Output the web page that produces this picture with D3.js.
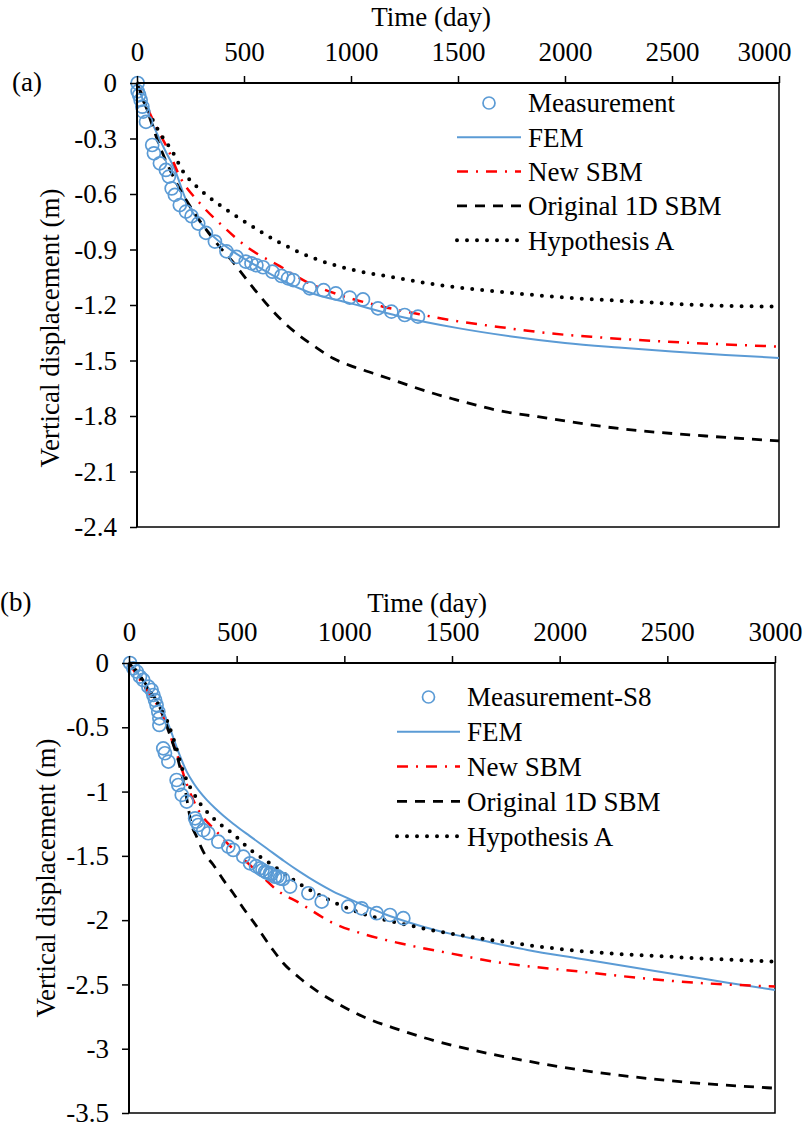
<!DOCTYPE html>
<html>
<head>
<meta charset="utf-8">
<script src="https://cdn.jsdelivr.net/npm/d3@7"></script>
<style>
  body { margin: 0; background: #fff; }
  svg text { font-family: "Liberation Serif", "Times New Roman", serif; fill: #000; }
</style>
</head>
<body>
<div id="chart"></div>
<script>
// ---- data: [time (day), vertical displacement (m)] ----
const xTicks = [0, 500, 1000, 1500, 2000, 2500, 3000];
const aYTicks = [0, -0.3, -0.6, -0.9, -1.2, -1.5, -1.8, -2.1, -2.4];
const bYTicks = [0, -0.5, -1, -1.5, -2, -2.5, -3, -3.5];

const aMeasured = [[3,0],[3,-0.045],[10,-0.065],[17,-0.092],[25,-0.128],[29,-0.155],[42,-0.21],
  [71,-0.335],[79,-0.38],[107,-0.434],[135,-0.47],[149,-0.506],[162,-0.57],[177,-0.605],[200,-0.66],
  [229,-0.695],[255,-0.72],[286,-0.76],[322,-0.81],[364,-0.857],[418,-0.91],[465,-0.94],[508,-0.965],
  [535,-0.975],[558,-0.985],[589,-0.996],[633,-1.02],[675,-1.043],[706,-1.056],[730,-1.065],
  [807,-1.11],[872,-1.12],[929,-1.137],[994,-1.16],[1056,-1.17],[1126,-1.218],[1189,-1.236],
  [1251,-1.254],[1313,-1.263]];
const aFem = [[0,0],[30,-0.1],[92,-0.27],[138,-0.38],[170,-0.45],[232,-0.64],[340,-0.81],[448,-0.91],
  [560,-0.99],[683,-1.07],[800,-1.13],[994,-1.19],[1228,-1.262],[1500,-1.325],[1750,-1.37],
  [2000,-1.405],[2250,-1.43],[2500,-1.452],[2750,-1.47],[3000,-1.486]];
const aNewSbm = [[0,0],[53,-0.146],[100,-0.26],[146,-0.362],[200,-0.506],[294,-0.65],[403,-0.776],
  [512,-0.885],[667,-0.99],[792,-1.075],[947,-1.146],[1149,-1.209],[1320,-1.25],[1461,-1.281],
  [1700,-1.32],[1927,-1.353],[2160,-1.375],[2472,-1.398],[2750,-1.413],[3000,-1.425]];
const aOrigSbm = [[0,0],[30,-0.09],[107,-0.344],[185,-0.542],[279,-0.72],[372,-0.866],[450,-0.97],
  [551,-1.119],[675,-1.281],[745,-1.353],[831,-1.425],[916,-1.488],[1009,-1.533],[1103,-1.569],
  [1196,-1.605],[1289,-1.642],[1383,-1.677],[1484,-1.71],[1585,-1.741],[1678,-1.768],[1873,-1.804],
  [2269,-1.87],[2658,-1.908],[3000,-1.935]];
const aHypA = [[0,0],[30,-0.09],[99,-0.254],[170,-0.38],[216,-0.48],[279,-0.56],[387,-0.66],[504,-0.75],
  [667,-0.863],[839,-0.953],[1009,-1.01],[1196,-1.05],[1400,-1.09],[1694,-1.128],[2000,-1.16],
  [2300,-1.18],[2627,-1.2],[3000,-1.209]];

const bMeasured = [[5,0],[20,-0.041],[36,-0.067],[51,-0.106],[66,-0.132],[90,-0.184],[105,-0.21],
  [113,-0.249],[121,-0.288],[128,-0.327],[136,-0.379],[141,-0.43],[141,-0.482],[159,-0.664],
  [167,-0.702],[183,-0.767],[221,-0.91],[229,-0.949],[245,-1.026],[268,-1.078],[307,-1.208],
  [314,-1.234],[322,-1.26],[345,-1.3],[368,-1.324],[415,-1.39],[461,-1.428],[484,-1.454],
  [531,-1.506],[562,-1.558],[590,-1.58],[608,-1.597],[620,-1.61],[632,-1.623],[640,-1.63],
  [655,-1.635],[660,-1.645],[678,-1.662],[690,-1.66],[701,-1.675],[715,-1.68],[748,-1.739],
  [833,-1.791],[895,-1.856],[1018,-1.895],[1080,-1.908],[1150,-1.946],[1212,-1.96],[1274,-1.985]];
const bFem = [[0,0],[50,-0.1],[100,-0.22],[144,-0.33],[190,-0.508],[229,-0.69],[268,-0.845],
  [300,-0.935],[330,-1.005],[361,-1.065],[400,-1.13],[440,-1.19],[484,-1.25],[560,-1.345],
  [639,-1.441],[720,-1.54],[794,-1.625],[870,-1.705],[949,-1.778],[1030,-1.84],[1104,-1.895],
  [1180,-1.948],[1258,-1.995],[1370,-2.053],[1491,-2.105],[1630,-2.155],[1850,-2.232],[2094,-2.3],
  [2330,-2.365],[2559,-2.426],[2780,-2.487],[3000,-2.543]];
const bNewSbm = [[0,0],[66,-0.17],[120,-0.3],[144,-0.36],[170,-0.47],[190,-0.56],[229,-0.741],
  [268,-0.94],[314,-1.12],[407,-1.312],[500,-1.475],[600,-1.63],[686,-1.765],[794,-1.869],
  [949,-2.024],[1104,-2.115],[1258,-2.18],[1491,-2.258],[1692,-2.322],[2094,-2.4],[2559,-2.478],
  [3000,-2.517]];
const bOrigSbm = [[0,0],[50,-0.1],[100,-0.22],[144,-0.35],[190,-0.56],[229,-0.76],[260,-0.98],
  [291,-1.26],[314,-1.351],[345,-1.467],[392,-1.571],[438,-1.687],[484,-1.791],[531,-1.908],
  [577,-2.011],[663,-2.219],[717,-2.335],[794,-2.452],[872,-2.55],[980,-2.659],[1104,-2.763],
  [1258,-2.854],[1413,-2.935],[1568,-3.0],[1723,-3.055],[2094,-3.165],[2559,-3.256],[3000,-3.307]];
const bHypA = [[0,0],[50,-0.1],[98,-0.24],[159,-0.38],[206,-0.586],[252,-0.845],[314,-1.052],
  [392,-1.208],[484,-1.33],[562,-1.45],[639,-1.54],[794,-1.72],[949,-1.86],[1104,-1.96],
  [1258,-2.024],[1413,-2.08],[1630,-2.141],[2094,-2.24],[2559,-2.289],[3000,-2.323]];

const aLegend = ["Measurement", "FEM", "New SBM", "Original 1D SBM", "Hypothesis A"];
const bLegend = ["Measurement-S8", "FEM", "New SBM", "Original 1D SBM", "Hypothesis A"];

const W = 810, H = 1128;
const FONT = 27;
const BLUE = "#5b9bd5";

const svg = d3.select("#chart").append("svg")
  .attr("width", W).attr("height", H);

// line styles, in legend order (after the measurement marker)
const styles = [
  { stroke: BLUE, width: 2, dash: null, cap: "butt" },
  { stroke: "#ff0000", width: 2.5, dash: "11,8,2,8", cap: "butt" },
  { stroke: "#000", width: 2.8, dash: "10,8", cap: "butt" },
  { stroke: "#000", width: 4, dash: "0,10", cap: "round" }
];

function drawPanel(p) {
  const g = svg.append("g");
  const x = d3.scaleLinear().domain([0, 3000]).range([p.left, p.left + p.w]);
  const y = d3.scaleLinear().domain([0, p.yMin]).range([p.top, p.top + p.h]);

  // frame
  g.append("rect")
    .attr("x", p.left).attr("y", p.top)
    .attr("width", p.w).attr("height", p.h)
    .attr("fill", "none").attr("stroke", "#000").attr("stroke-width", 1.5);

  // curves
  const line = d3.line().x(d => x(d[0])).y(d => y(d[1])).curve(d3.curveMonotoneX);
  const clip = "clip-" + p.id;
  g.append("clipPath").attr("id", clip).append("rect")
    .attr("x", p.left).attr("y", p.top - 2).attr("width", p.w + 2).attr("height", p.h + 4);

  p.series.forEach((s, i) => {
    const st = styles[i];
    g.append("path")
      .datum(s)
      .attr("clip-path", `url(#${clip})`)
      .attr("fill", "none")
      .attr("stroke", st.stroke)
      .attr("stroke-width", st.width)
      .attr("stroke-dasharray", st.dash)
      .attr("stroke-linecap", st.cap)
      .attr("d", line);
  });

  // measurement circles
  g.append("g").selectAll("circle")
    .data(p.measured)
    .enter()
    .append("circle")
    .attr("cx", d => x(d[0]))
    .attr("cy", d => y(d[1]))
    .attr("r", 6.5)
    .attr("fill", "none")
    .attr("stroke", BLUE)
    .attr("stroke-width", 1.7);

  // axes
  const xAxis = g.append("g")
    .attr("transform", `translate(0,${p.top})`)
    .call(d3.axisTop(x).tickValues(xTicks).tickSize(7).tickPadding(15).tickFormat(d3.format("d")));
  const yAxis = g.append("g")
    .attr("transform", `translate(${p.left},0)`)
    .call(d3.axisLeft(y).tickValues(p.yTicks).tickSize(7).tickPadding(13).tickFormat(d => d.toString()));
  [xAxis, yAxis].forEach(a => {
    a.select(".domain").attr("stroke-width", 2).attr("d",
      a === xAxis ? `M${p.left},0H${p.left + p.w}` : `M0,${p.top}V${p.top + p.h}`);
    a.selectAll(".tick line").attr("stroke-width", 1.5);
    a.selectAll("text").attr("font-size", FONT).style("font-family", "'Liberation Serif', serif");
  });
  // the last top label is pulled inside the frame in panel (a)
  xAxis.selectAll(".tick text").filter(d => d === 3000).attr("dx", p.lastShift);

  // titles
  g.append("text")
    .attr("x", p.xTitleX).attr("y", p.xTitleY)
    .attr("text-anchor", "middle").attr("font-size", FONT)
    .text("Time (day)");
  g.append("text")
    .attr("transform", `translate(${p.yTitleX},${p.yTitleY}) rotate(-90)`)
    .attr("text-anchor", "middle").attr("dy", "0.35em").attr("font-size", FONT)
    .text("Vertical displacement (m)");
  g.append("text")
    .attr("x", p.tagX).attr("y", p.tagY)
    .attr("font-size", FONT)
    .text(p.tag);

  // legend
  const lg = g.append("g");
  p.legend.forEach((name, i) => {
    const cy = p.legY + i * p.legStep;
    if (i === 0) {
      lg.append("circle")
        .attr("cx", (p.legX0 + p.legX1) / 2).attr("cy", cy).attr("r", 6)
        .attr("fill", "none").attr("stroke", BLUE).attr("stroke-width", 1.7);
    } else {
      const st = styles[i - 1];
      lg.append("line")
        .attr("x1", p.legX0).attr("x2", p.legX1)
        .attr("y1", cy).attr("y2", cy)
        .attr("stroke", st.stroke).attr("stroke-width", st.width)
        .attr("stroke-dasharray", st.dash).attr("stroke-linecap", st.cap);
    }
    lg.append("text")
      .attr("x", p.legText).attr("y", cy).attr("dy", "0.35em")
      .attr("font-size", FONT)
      .text(name);
  });
}

drawPanel({
  id: "a", tag: "(a)", tagX: 12, tagY: 91, lastShift: -15,
  left: 137, top: 83, w: 642, h: 444, yMin: -2.4, yTicks: aYTicks,
  xTitleX: 431, xTitleY: 26, yTitleX: 50, yTitleY: 328,
  measured: aMeasured, series: [aFem, aNewSbm, aOrigSbm, aHypA],
  legend: aLegend, legX0: 457, legX1: 521, legText: 528, legY: 103, legStep: 34.3
});

drawPanel({
  id: "b", tag: "(b)", tagX: 0, tagY: 611, lastShift: 0,
  left: 129, top: 663, w: 646, h: 450, yMin: -3.5, yTicks: bYTicks,
  xTitleX: 427, xTitleY: 612, yTitleX: 46, yTitleY: 878,
  measured: bMeasured, series: [bFem, bNewSbm, bOrigSbm, bHypA],
  legend: bLegend, legX0: 397, legX1: 460, legText: 467, legY: 697, legStep: 34.8
});
</script>
</body>
</html>
